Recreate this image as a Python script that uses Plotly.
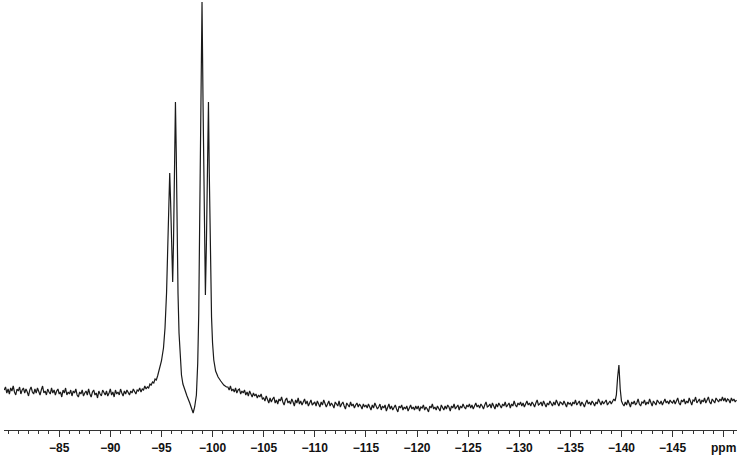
import plotly.graph_objects as go

grid_step_ppm = -0.125

left_start_ppm = -79.625
left_intensity = [
    43, 46, 40, 44, 39, 45, 42, 47, 41, 38, 44, 42, 46, 39, 43, 45, 40, 44, 41, 37,
    43, 46, 41, 39, 44, 40, 45, 42, 38, 43, 47, 40, 42, 38, 44, 41, 39, 45, 40, 43,
    38, 42, 44, 39, 41, 36, 43, 40, 45, 38, 41, 39, 43, 37, 42, 40, 44, 38, 36, 41,
    39, 43, 37, 40, 42, 38, 44, 39, 36, 41, 43, 38, 40, 35, 42, 39, 37, 43, 40, 38,
    42, 37, 40, 44, 38, 41, 36, 43, 39, 41, 38, 44, 40, 37, 42, 39, 43, 41, 38, 42,
    40, 44, 41, 39, 43, 42, 45, 41, 44, 43, 47, 44, 46, 45, 49, 48, 51, 50, 54, 53]

peak_ppm = [-94.625, -94.75, -94.875, -95.0, -95.2, -95.35, -95.5, -95.62, -95.72, -95.81,
            -95.9, -96.0, -96.1, -96.18, -96.26, -96.37, -96.45, -96.53, -96.62, -96.72,
            -96.85, -96.96, -97.1, -97.28, -97.5, -97.77, -97.95, -98.1, -98.25, -98.42,
            -98.55, -98.65, -98.75, -98.85, -98.97, -99.07, -99.18, -99.3, -99.4, -99.5,
            -99.6, -99.68, -99.76, -99.9, -100.0, -100.12, -100.3, -100.54, -100.8, -101.1,
            -101.36]
peak_intensity = [57, 62, 66, 72, 85, 105, 140, 200, 245, 260,
                  230, 180, 151, 190, 270, 331, 280, 200, 140, 100,
                  72, 58, 49, 43, 37, 30, 24, 20, 26, 38,
                  70, 120, 220, 340, 431, 330, 210, 138, 190, 280,
                  331, 260, 190, 116, 90, 73, 62, 56, 52, 48,
                  46]

right_start_ppm = -101.5
right_intensity = [
    46, 43, 47, 42, 44, 41, 45, 40, 43, 44, 39, 42,
    40, 43, 38, 41, 37, 42, 39, 36, 40, 37, 39, 35, 38, 36, 39, 34,
    35, 32, 37, 33, 30, 35, 31, 34, 36, 30, 33, 29, 34, 32, 36, 31, 28, 33, 35, 30,
    32, 29, 34, 31, 27, 33, 30, 35, 29, 32, 28, 31, 34, 29, 32, 27, 31, 33, 28, 30,
    31, 27, 32, 29, 26, 31, 28, 33, 30, 26, 29, 32, 27, 30, 28, 25, 31, 29, 27, 32,
    26, 29, 31, 27, 24, 30, 28, 26, 31, 27, 29, 25, 28, 30, 26, 29, 27, 24, 29, 26,
    28, 25, 29, 26, 23, 28, 25, 30, 27, 24, 26, 29, 23, 27, 25, 28, 22, 26, 29, 24,
    27, 23, 26, 28, 24, 21, 27, 25, 28, 23, 26, 24, 27, 22, 25, 28, 24, 26, 23, 27,
    24, 27, 22, 26, 25, 28, 23, 26, 24, 21, 27, 25, 29, 24, 26, 23, 27, 25, 22, 28,
    25, 23, 27, 24, 28, 26, 22, 27, 25, 29, 24, 26, 28, 23, 27, 25, 29, 26, 24, 28,
    26, 29, 25, 28, 24, 27, 30, 26, 28, 25, 29, 27, 24, 28, 31, 26, 27, 29, 25, 30,
    27, 24, 29, 26, 30, 28, 25, 29, 27, 31, 26, 28, 30, 25, 29, 27, 32, 28, 26, 30,
    28, 31, 27, 30, 26, 29, 32, 28, 30, 27, 31, 29, 26, 30, 33, 28, 29, 31, 27, 32,
    29, 26, 30, 28, 32, 29, 27, 31, 28, 33, 29, 27, 31, 30, 28, 32, 29, 26, 31, 29,
    30, 27, 31, 29, 33, 28, 30, 32, 27, 31, 29, 26, 30, 33, 29, 31, 28, 32,
    30, 27, 31, 29, 34, 30, 28, 32, 29, 31, 33, 28, 30, 32, 29, 31, 34, 32,
    38, 56, 68, 44,
    32, 29, 27, 31, 28, 33, 30, 26, 31, 29, 32, 28, 30, 34, 29, 27, 31, 30, 33, 28,
    31, 29, 34, 30, 27, 32, 30, 28, 33, 31, 29, 32, 28, 31, 34, 30, 32, 29, 33, 31,
    30, 33, 29, 32, 35, 30, 28, 33, 31, 34, 29, 32, 30, 35, 31, 28, 33, 32, 36, 30,
    32, 34, 29, 33, 31, 35, 30, 33, 36, 31, 29, 34, 32, 30, 35, 33, 31, 34, 32, 36,
    32, 35, 31, 34, 33, 30, 35, 32, 34, 31, 33]

tick_values = [-85, -90, -95, -100, -105, -110, -115, -120, -125, -130, -135, -140, -145, -150]
tick_labels = ["−85", "−90", "−95", "−100", "−105", "−110", "−115", "−120", "−125",
               "−130", "−135", "−140", "−145", "ppm"]

# ---- assemble ----
left_ppm = [left_start_ppm + grid_step_ppm * i for i in range(len(left_intensity))]
right_ppm = [right_start_ppm + grid_step_ppm * i for i in range(len(right_intensity))]
x = left_ppm + peak_ppm + right_ppm
y = left_intensity + peak_intensity + right_intensity

fig = go.Figure(go.Scatter(x=x, y=y, mode="lines",
                           line=dict(color="#1a1a1a", width=1.2)))

fig.update_layout(
    width=747, height=455,
    margin=dict(l=4, r=10, t=0, b=25),
    paper_bgcolor="white", plot_bgcolor="white",
    showlegend=False,
    xaxis=dict(range=[-79.6, -151.3], showgrid=False, zeroline=False, automargin=False,
               showline=True, linecolor="#333", linewidth=1,
               tickmode="array", tickvals=tick_values, ticktext=tick_labels,
               ticks="outside", ticklen=6, tickcolor="#333", tickwidth=1,
               minor=dict(tickmode="linear", tick0=0, dtick=1, ticks="outside",
                          ticklen=3, tickcolor="#333", showgrid=False),
               tickfont=dict(family="Liberation Sans, Arial", size=12, color="#111",
                             weight="bold"),
               ticklabelstandoff=1),
    yaxis=dict(range=[3, 433], visible=False, automargin=False),
)

fig.write_html("out.html", config={"displayModeBar": False},
               post_script="document.body.style.margin='0';document.body.style.overflow='hidden';")
